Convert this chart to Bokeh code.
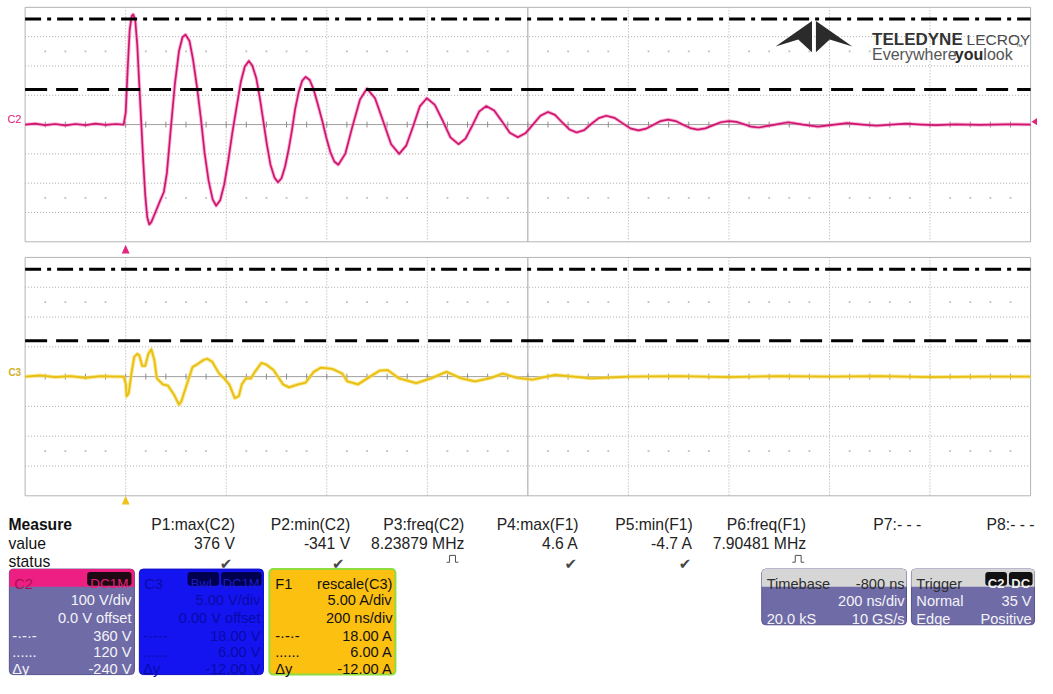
from bokeh.plotting import figure
from bokeh.models import Range1d
from bokeh.core.properties import value
from bokeh.embed import file_html
from bokeh.resources import INLINE

# C2 : voltage trace (V) versus time from trigger (ns)
c2_time_ns = [-200, -180, -160, -140, -120, -100, -80, -60, -40, -20, -4,
              0, 4, 8, 12, 15, 19, 23, 27, 31, 35, 39, 43, 47, 51, 59, 68, 76, 82, 90, 98, 106, 113, 119,
              127, 134, 142, 150, 157, 165, 173, 180,
              188, 196, 204, 212, 221, 229, 237, 245,
              252, 260, 267, 274, 281, 288, 296, 303,
              310, 317, 324, 331, 337, 344, 351, 358,
              366, 374, 382, 391, 399, 407, 415, 423,
              437, 451, 466, 480,
              496, 512, 528, 544,
              558, 572, 585, 599,
              615, 631, 646, 662,
              676, 690, 703, 717,
              733, 749, 764, 780,
              795, 810, 825, 840,
              854, 868, 883, 897,
              912, 926, 941, 956,
              972, 988, 1004, 1020,
              1035, 1050, 1064, 1079,
              1094, 1108, 1123, 1138,
              1153, 1169, 1184, 1200,
              1215, 1230, 1244, 1259,
              1289, 1318, 1347, 1377, 1406, 1435, 1465, 1494, 1523, 1553, 1582, 1612,
              1650, 1700, 1750, 1800]
c2_volts = [0, 3, -2, 2, -3, 2, -2, 3, -1, 2, 0,
            40, 190, 323, 370, 376, 357, 273, 140, 7, -127, -243, -317, -341, -333, -300, -262, -230, -165, -10, 140, 250, 298, 307,
            285, 222, 127, 15, -97, -192, -255, -277,
            -258, -205, -124, -30, 64, 145, 198, 217,
            201, 157, 89, 10, -69, -137, -181, -197,
            -183, -144, -86, -17, 52, 110, 149, 163,
            152, 119, 70, 13, -44, -93, -126, -137,
            -99, -7, 85, 123,
            90, 12, -67, -100,
            -72, -5, 62, 90,
            67, 12, -44, -67,
            -48, -2, 44, 63,
            48, 10, -28, -43,
            -30, 0, 30, 43,
            33, 8, -17, -27,
            -19, 2, 22, 30,
            23, 5, -13, -20,
            -14, -1, 12, 17,
            12, 0, -12, -17,
            -13, -2, 8, 12,
            9, 1, -7, -10,
            -1, 8, 0, -7, -1, 5, 0, -4, 0, 3, 0, -2,
            1, -1, 1, 0]

# F1 : rescaled current trace (A) versus time from trigger (ns)
f1_time_ns = [-200, -170, -140, -110, -80, -50, -20, -4,
              0, 2, 6, 12, 17, 23, 27, 33, 39, 45,
              51, 57, 62, 74, 84, 96, 106, 111, 119, 133,
              143, 155, 162, 172, 186, 196, 206, 217, 225, 231,
              239, 249, 257, 270, 280, 294, 313, 325, 343, 358,
              374, 388, 411, 431, 441, 462, 486, 505, 521, 544,
              578, 607, 638, 668, 695, 727, 750, 779, 809, 854,
              926, 1004, 1100, 1200, 1300, 1400, 1500, 1600, 1700, 1800]
f1_amps = [0, 0.2, -0.1, 0.1, -0.2, 0.1, 0, 0,
           -1.1, -3.3, -2.8, 0.8, 3.3, 3.8, 3.6, 1.8, 1.8, 3.8,
           4.6, 2.8, -0.3, -1.3, -1.5, -3.0, -4.7, -4.1, -2.0, 1.6,
           2.1, 2.8, 3.0, 2.5, 0.5, -0.3, -1.3, -3.6, -3.3, -1.3,
           -0.3, -0.3, 0.8, 2.3, 2.0, 1.1, -1.3, -1.8, -1.3, -1.0,
           0.8, 1.5, 1.3, 0.5, -0.8, -1.3, 0, 1.0, 1.1, -0.3,
           -1.1, -0.3, 0.8, -0.3, -0.8, -0.2, 0.5, -0.2, -0.5, 0.3,
           -0.3, 0, 0.1, -0.1, 0.1, 0, 0.1, -0.1, 0, 0]

c2_cursors_v = [360, 120]      # dash-dot, dashed
f1_cursors_a = [18.0, 6.0]

measure_headers = ["P1:max(C2)", "P2:min(C2)", "P3:freq(C2)", "P4:max(F1)",
                   "P5:min(F1)", "P6:freq(F1)", "P7:- - -", "P8:- - -"]
measure_values = ["376 V", "-341 V", "8.23879 MHz", "4.6 A", "-4.7 A", "7.90481 MHz", "", ""]
measure_status = ["check", "check", "pulse", "check", "check", "pulse", "", ""]

c2_box_rows = ["100 V/div", "0.0 V offset", "360 V", "120 V", "-240 V"]
c3_box_rows = ["5.00 V/div", "0.00 V offset", "18.00 V", "6.00 V", "-12.00 V"]
f1_box_rows = ["5.00 A/div", "200 ns/div", "18.00 A", "6.00 A", "-12.00 A"]

# ---------------- layout (reference pixel space) ----------------
W_REF, H_REF = 1053, 694
FIG_W, FIG_H = 1037, 678
GX0, GX1 = 25, 1046
TOP_Y0, TOP_Y1 = 7, 247
BOT_Y0, BOT_Y1 = 263, 507
NS_PER_DIV, V_PER_DIV, A_PER_DIV = 200, 100, 5
FONT = "Liberation Sans"


def Y(y):
    return H_REF - y


divx = (GX1 - GX0) / 10
trig_x = GX0 + divx
top_c, top_d = (TOP_Y0 + TOP_Y1) / 2, (TOP_Y1 - TOP_Y0) / 8
bot_c, bot_d = (BOT_Y0 + BOT_Y1) / 2, (BOT_Y1 - BOT_Y0) / 8


def t_at(x):
    return (x - trig_x) * NS_PER_DIV / divx


def v_at(y):
    return (top_c - y) / top_d * V_PER_DIV


def a_at(y):
    return (bot_c - y) / bot_d * A_PER_DIV


p = figure(width=FIG_W, height=FIG_H, x_range=Range1d(0, W_REF), y_range=Range1d(0, H_REF),
           output_backend="svg", toolbar_location=None, min_border=0,
           x_axis_location=None, y_axis_location=None, outline_line_color=None,
           background_fill_color="white", border_fill_color="white")
p.grid.visible = False
p.extra_x_ranges = {"t": Range1d(t_at(0), t_at(W_REF))}
p.extra_y_ranges = {"v2": Range1d(v_at(H_REF), v_at(0)), "f1": Range1d(a_at(H_REF), a_at(0))}

GRID = "#a9a9a9"
AXIS = "#a0a0a0"


def graticule(y0, y1):
    c, d = (y0 + y1) / 2, (y1 - y0) / 8
    xs = [GX0 + k * divx for k in range(1, 10) if k != 5]
    p.segment(x0=xs, x1=xs, y0=[Y(y0)] * len(xs), y1=[Y(y1)] * len(xs),
              line_color=GRID, line_dash="1 2", line_width=1)
    ys = [y0 + k * d for k in range(1, 8) if k != 4]
    p.segment(x0=[GX0] * len(ys), x1=[GX1] * len(ys), y0=[Y(v) for v in ys], y1=[Y(v) for v in ys],
              line_color=GRID, line_dash="1 2", line_width=1)
    xm = GX0 + 5 * divx
    p.segment(x0=[GX0, xm], x1=[GX1, xm], y0=[Y(c), Y(y0)], y1=[Y(c), Y(y1)],
              line_color=AXIS, line_width=1)
    tx = [GX0 + i * divx / 5 for i in range(1, 50)]
    p.segment(x0=tx, x1=tx, y0=[Y(c - 3)] * len(tx), y1=[Y(c + 3)] * len(tx),
              line_color="#8c8c8c", line_width=1)
    dx = [GX0 + i * divx / 5 for i in range(1, 50) if i % 5]
    for yy in (c - 2.5 * d, c + 2.5 * d):
        p.scatter(dx, [Y(yy)] * len(dx), size=1.8, marker="square",
                  fill_color="#bdbdbd", line_color=None)
    p.quad(left=[GX0], right=[GX1], top=[Y(y0)], bottom=[Y(y1)],
           fill_color=None, line_color="#b4b4b4", line_width=1)


graticule(TOP_Y0, TOP_Y1)
graticule(BOT_Y0, BOT_Y1)

# ---------------- traces ----------------
p.line(c2_time_ns, c2_volts, x_range_name="t", y_range_name="v2",
       line_color="#f27ab4", line_width=3.6, line_alpha=0.55, line_join="round")
p.line(c2_time_ns, c2_volts, x_range_name="t", y_range_name="v2",
       line_color="#cf1570", line_width=1.7, line_join="round")
p.line(f1_time_ns, f1_amps, x_range_name="t", y_range_name="f1",
       line_color="#f6dc5a", line_width=3.8, line_alpha=0.7, line_join="round")
p.line(f1_time_ns, f1_amps, x_range_name="t", y_range_name="f1",
       line_color="#e8bf12", line_width=1.8, line_join="round")

# ---------------- cursors ----------------
t_lo, t_hi = t_at(GX0), t_at(GX1)
for val, dash in zip(c2_cursors_v, ["16 6 4 6", "22 9"]):
    p.segment(x0=[t_lo], x1=[t_hi], y0=[val], y1=[val], x_range_name="t", y_range_name="v2",
              line_color="black", line_width=3, line_dash=dash)
for val, dash in zip(f1_cursors_a, ["16 6 4 6", "22 9"]):
    p.segment(x0=[t_lo], x1=[t_hi], y0=[val], y1=[val], x_range_name="t", y_range_name="f1",
              line_color="black", line_width=3, line_dash=dash)


# ---------------- helpers ----------------
def label(x, y, s, size=14.6, color="#111111", align="left", bold=False, font=FONT):
    p.text(x=[x], y=[Y(y)], text=[s], text_font=value(font), text_font_size=f"{size}px",
           text_color=color, text_align=align, text_baseline="alphabetic",
           text_font_style="bold" if bold else "normal")


def box(l, r, t, b, fill, line=None, lw=1, radius=4):
    p.quad(left=[l], right=[r], top=[Y(t)], bottom=[Y(b)], fill_color=fill,
           line_color=line, line_width=lw, border_radius=radius)


# channel markers
label(7, 121, "C2", size=11, color="#e01a7c")
label(8, 381, "C3", size=10, color="#d2ae28", bold=True)
p.patch([trig_x - 4, trig_x + 4, trig_x], [Y(259), Y(259), Y(250)], fill_color="#e0267e", line_color=None)
p.patch([trig_x - 4, trig_x + 4, trig_x], [Y(516), Y(516), Y(507)], fill_color="#f0c21e", line_color=None)
p.patch([1047, 1053, 1053], [Y(124), Y(120), Y(128)], fill_color="#e0267e", line_color=None)

# ---------------- logo ----------------
LOGO = "#2b2b2b"
p.patches(xs=[[787, 824, 824, 810], [865, 828, 828, 842]],
          ys=[[Y(47), Y(21), Y(53), Y(40)], [Y(47), Y(21), Y(53), Y(40)]],
          fill_color=LOGO, line_color=None)
label(885, 40, "TELEDYNE", size=17, color="#333333", bold=True)
label(981, 40, "LECROY", size=15.5, color="#4a4a4a")
label(885, 55, "Everywhere", size=16, color="#555555")
label(969, 55, "you", size=16, color="#2a2a2a", bold=True)
label(998, 55, "look", size=16, color="#555555")
label(1031, 47, "™", size=7, color="#555555")

# ---------------- measure table ----------------
col_right = [238, 355, 471, 587, 703, 818, 935, 1050]
mark_x = [229, 343, 459, 579, 695, 810, 0, 0]
label(8, 536, "Measure", size=15.7, color="#111111", bold=True)
label(8, 556, "value", size=15.7, color="#111111")
label(8, 574, "status", size=15.7, color="#111111")
for xr, mx, h, v, s in zip(col_right, mark_x, measure_headers, measure_values, measure_status):
    label(xr, 536, h, size=15.7, color="#222222", align="right")
    if v:
        label(xr, 556, v, size=15.7, color="#222222", align="right")
    if s == "check":
        label(mx, 577, "✔", size=15, color="#474747", align="center", font="DejaVu Sans")
    elif s == "pulse":
        p.line([mx - 6, mx - 3, mx - 3, mx + 3, mx + 3, mx + 6],
               [Y(575), Y(575), Y(568), Y(568), Y(575), Y(575)], line_color="#505050", line_width=1)

# ---------------- channel descriptor boxes ----------------
ROWS = [614, 632, 650, 667, 684]
PURPLE = "#6f6ba7"
BOX_B = 690

# C2
box(9, 136, 582, BOX_B, PURPLE, line="#57538c")
box(9, 136, 582, 600, "#ee1f82", radius=(4, 4, 0, 0))
label(14, 597, "C2", color="#a80f55")
box(88, 133, 585, 599, "#1e0a12", radius=3)
label(110.5, 597, "DC1M", size=13.5, color="#e0207a", align="center")
for y, s in zip(ROWS, c2_box_rows):
    label(133, y, s, color="#f4f4f8", align="right")
label(12, ROWS[2], "-·-·-", color="#f4f4f8")
label(12, ROWS[3], "......", color="#f4f4f8")
label(12, ROWS[4], "Δy", color="#f4f4f8")

# C3
BLUE_TXT = "#0a0aa8"
box(141, 267, 582, BOX_B, "#1414f0", line="#0c0cc0")
label(146, 597, "C3", color=BLUE_TXT)
box(190, 222, 585, 599, "#00004e", radius=3)
box(224, 265, 585, 599, "#00004e", radius=3)
label(206, 597, "BwL", size=13, color="#1c1cc4", align="center")
label(244.5, 597, "DC1M", size=13, color="#1c1cc4", align="center")
for y, s in zip(ROWS, c3_box_rows):
    label(264, y, s, color=BLUE_TXT, align="right")
label(145, ROWS[2], "-·-·-", color=BLUE_TXT)
label(145, ROWS[3], "......", color=BLUE_TXT)
label(145, ROWS[4], "Δy", color=BLUE_TXT)

# F1
box(273, 401, 582, BOX_B, "#fcc010", line="#8edc3e", lw=2)
label(279, 597, "F1", color="#111111")
label(398, 597, "rescale(C3)", color="#111111", align="right")
for y, s in zip(ROWS, f1_box_rows):
    label(398, y, s, color="#111111", align="right")
label(279, ROWS[2], "-·-·-", color="#111111")
label(279, ROWS[3], "......", color="#111111")
label(279, ROWS[4], "Δy", color="#111111")

# Timebase
box(773, 920, 582, 639, PURPLE, line="#57538c")
box(773, 920, 582, 600, "#d6d6d6", radius=(4, 4, 0, 0))
label(778, 597, "Timebase", color="#2e2e2e")
label(918, 597, "-800 ns", color="#2e2e2e", align="right")
label(918, 615, "200 ns/div", color="#f4f4f8", align="right")
label(778, 633, "20.0 kS", color="#f4f4f8")
label(918, 633, "10 GS/s", color="#f4f4f8", align="right")

# Trigger
box(925, 1050, 582, 639, PURPLE, line="#57538c")
box(925, 1050, 582, 600, "#d6d6d6", radius=(4, 4, 0, 0))
label(930, 597, "Trigger", color="#2e2e2e")
box(1000, 1022, 585, 599, "#111111", radius=3)
box(1024, 1048, 585, 599, "#111111", radius=3)
label(1011, 597, "C2", size=13, color="#f0f0f0", align="center", bold=True)
label(1036, 597, "DC", size=13, color="#f0f0f0", align="center", bold=True)
label(930, 615, "Normal", color="#f4f4f8")
label(1047, 615, "35 V", color="#f4f4f8", align="right")
label(930, 633, "Edge", color="#f4f4f8")
label(1047, 633, "Positive", color="#f4f4f8", align="right")

open("out.html", "w").write(file_html(p, INLINE, title="Teledyne LeCroy capture"))
